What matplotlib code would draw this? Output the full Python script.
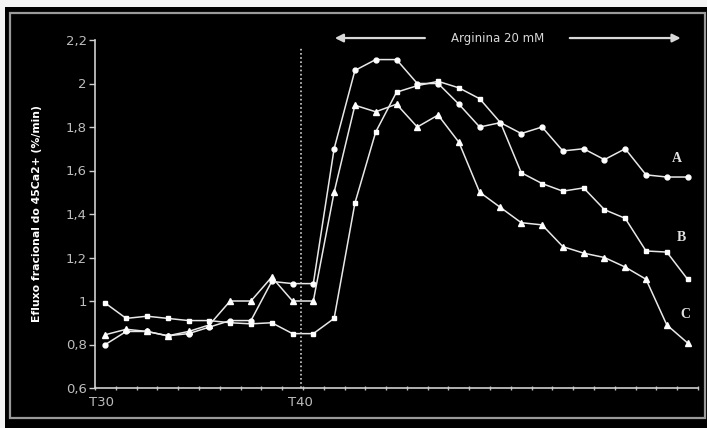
import numpy as np
import matplotlib
matplotlib.use('Agg')
import matplotlib.pyplot as plt
from matplotlib.patches import Rectangle

# tempo (coletas), de T30 em diante
n_pts = 29
x = np.arange(n_pts)

serie_A = [0.80, 0.86, 0.86, 0.84, 0.85, 0.88, 0.91, 0.91, 1.09, 1.08,
           1.08, 1.70, 2.06, 2.11, 2.11, 2.00, 2.00, 1.905, 1.80, 1.82,
           1.77, 1.80, 1.69, 1.70, 1.65, 1.70, 1.58, 1.57, 1.57]
serie_B = [0.99, 0.92, 0.93, 0.92, 0.91, 0.91, 0.90, 0.895, 0.90, 0.85,
           0.85, 0.92, 1.45, 1.777, 1.96, 1.99, 2.01, 1.98, 1.93, 1.82,
           1.59, 1.54, 1.505, 1.52, 1.42, 1.38, 1.23, 1.225, 1.10]
serie_C = [0.845, 0.87, 0.86, 0.84, 0.86, 0.89, 1.00, 1.00, 1.11, 1.00,
           1.00, 1.50, 1.90, 1.87, 1.905, 1.80, 1.855, 1.73, 1.50, 1.43,
           1.36, 1.35, 1.25, 1.22, 1.20, 1.156, 1.10, 0.89, 0.807]

yticks = [0.6, 0.8, 1.0, 1.2, 1.4, 1.6, 1.8, 2.0, 2.2]
ytick_labels = ['0,6', '0,8', '1', '1,2', '1,4', '1,6', '1,8', '2', '2,2']
xtick_labels = ['T30', 'T40']

W, H = 707, 428
fig = plt.figure(figsize=(W / 100, H / 100), dpi=100)
fig.patch.set_facecolor('black')

# faixas claras em cima e a esquerda, moldura cinza
fig.patches.append(Rectangle((0, 0), 5 / W, 1, transform=fig.transFigure,
                             facecolor='#f4f4f4', edgecolor='none', zorder=0))
fig.patches.append(Rectangle((0, 1 - 7 / H), 1, 7 / H, transform=fig.transFigure,
                             facecolor='#f4f4f4', edgecolor='none', zorder=0))
fig.patches.append(Rectangle((10 / W, 1 - 418 / H), 695 / W, 405 / H,
                             transform=fig.transFigure, facecolor='none',
                             edgecolor='#9a9a9a', linewidth=1.6, zorder=1))

ax = fig.add_axes([95 / W, 1 - 388 / H, 603 / W, 348 / H])
ax.set_facecolor('black')

cor = '#e8e8e8'
ax.plot(x, serie_A, color=cor, lw=1.1, marker='o', ms=3.5, mfc='white', mec='white')
ax.plot(x, serie_B, color=cor, lw=1.1, marker='s', ms=3.5, mfc='white', mec='white')
ax.plot(x, serie_C, color=cor, lw=1.1, marker='^', ms=3.8, mfc='white', mec='white')

ax.set_xlim(-0.5, n_pts - 0.5)
ax.set_ylim(0.6, 2.2)

for s in ['top', 'right']:
    ax.spines[s].set_visible(False)
for s in ['left', 'bottom']:
    ax.spines[s].set_color('#cfcfcf')
    ax.spines[s].set_linewidth(1.2)

ax.set_yticks(yticks)
ax.set_yticklabels(ytick_labels)
ax.tick_params(axis='y', colors='#cfcfcf', labelcolor='#bdbdbd', length=4,
               width=1, labelsize=9.5, pad=2)
ax.set_xticks([-0.2, 9.4])
ax.set_xticklabels(xtick_labels)
ax.tick_params(axis='x', which='major', length=0, labelcolor='#bdbdbd',
               labelsize=9.5, pad=6)
ax.set_xticks(np.arange(-0.5, n_pts, 1.0), minor=True)
ax.tick_params(axis='x', which='minor', direction='inout', length=3,
               width=1, color='#bdbdbd')

ax.set_ylabel('Efluxo fracional do 45Ca2+ (%/min)', color='white', fontsize=7.8,
              fontweight='bold', labelpad=17)

# linha pontilhada em T40
ax.plot([9.4, 9.4], [0.6, 2.17], color='#cfcfcf', lw=1.2, ls=(0, (1, 1.5)))

# seta da arginina
ax.annotate('', xy=(10.9, 2.209), xytext=(15.5, 2.209),
            arrowprops=dict(arrowstyle='-|>', color='#d8d8d8', lw=1.6,
                            mutation_scale=12), annotation_clip=False)
ax.annotate('', xy=(27.8, 2.209), xytext=(22.2, 2.209),
            arrowprops=dict(arrowstyle='-|>', color='#d8d8d8', lw=1.6,
                            mutation_scale=12), annotation_clip=False)
ax.text(18.85, 2.209, 'Arginina 20 mM', color='#d8d8d8', fontsize=8.5,
        ha='center', va='center', clip_on=False)

for lab, yy, xx in [('A', 1.657, 27.5), ('B', 1.294, 27.7), ('C', 0.94, 27.9)]:
    ax.text(xx, yy, lab, color='#e0e0e0', fontsize=10, fontweight='bold',
            family='Liberation Serif', ha='center', va='center')

fig.savefig('out.png', dpi=100, facecolor=fig.get_facecolor())
